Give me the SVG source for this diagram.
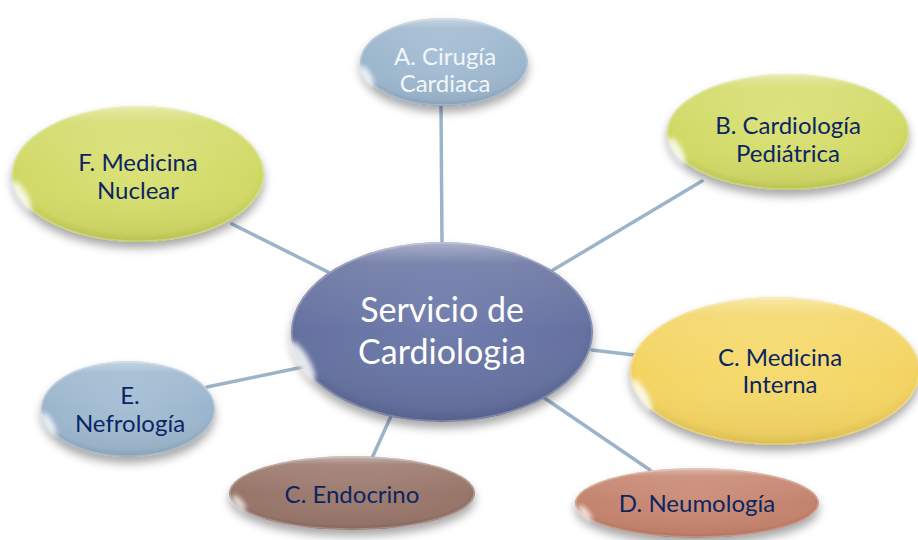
<svg xmlns="http://www.w3.org/2000/svg" width="918" height="540" viewBox="0 0 918 540">
<defs>
<filter id="sh" x="-20%" y="-20%" width="140%" height="150%">
<feDropShadow dx="0" dy="6" stdDeviation="5" flood-color="#000" flood-opacity="0.35"/>
</filter>
<filter id="blur" x="-50%" y="-50%" width="200%" height="200%">
<feGaussianBlur stdDeviation="2.5"/>
</filter>
<radialGradient id="gCenter" cx="50%" cy="45%" r="60%">
<stop offset="0" stop-color="#717dad"/><stop offset="0.8" stop-color="#65719f"/><stop offset="1" stop-color="#505b87"/>
</radialGradient>
<radialGradient id="gBlue" cx="50%" cy="45%" r="60%">
<stop offset="0" stop-color="#a7c0d6"/><stop offset="0.8" stop-color="#9bb5cc"/><stop offset="1" stop-color="#7d98b2"/>
</radialGradient>
<radialGradient id="gGreen" cx="50%" cy="45%" r="60%">
<stop offset="0" stop-color="#dbe27a"/><stop offset="0.8" stop-color="#d1d965"/><stop offset="1" stop-color="#b5bd48"/>
</radialGradient>
<radialGradient id="gYellow" cx="50%" cy="45%" r="60%">
<stop offset="0" stop-color="#f7dc72"/><stop offset="0.8" stop-color="#f3d463"/><stop offset="1" stop-color="#dcb948"/>
</radialGradient>
<radialGradient id="gSalmon" cx="50%" cy="45%" r="60%">
<stop offset="0" stop-color="#cc8f79"/><stop offset="0.8" stop-color="#c3826c"/><stop offset="1" stop-color="#a56a56"/>
</radialGradient>
<radialGradient id="gBrown" cx="50%" cy="45%" r="60%">
<stop offset="0" stop-color="#a07e72"/><stop offset="0.8" stop-color="#97756a"/><stop offset="1" stop-color="#7a5c52"/>
</radialGradient>
<linearGradient id="gloss" x1="0" y1="0" x2="0" y2="1">
<stop offset="0" stop-color="#fff" stop-opacity="0.45"/><stop offset="0.12" stop-color="#fff" stop-opacity="0.12"/><stop offset="0.5" stop-color="#fff" stop-opacity="0"/><stop offset="1" stop-color="#000" stop-opacity="0.05"/>
</linearGradient>
</defs>
<style>
.conn line{stroke:#9bb4c9;stroke-width:3.5;stroke-linecap:round}
.node .hl{fill:#fff;opacity:0.85;filter:url(#blur)}
.node .gl{fill:url(#gloss)}
.node .rim{fill:none;stroke:#fff;stroke-opacity:0.25;stroke-width:1.5}
text{font-family:Lato,"Open Sans","Liberation Sans",sans-serif;text-anchor:middle}
.dark{fill:#0b2562;font-size:24px}
.light{fill:#f2f6fa;font-size:24px}
.big{fill:#fff;font-size:34px}
</style>
<g id="connectors" class="conn">
<line x1="441" y1="106" x2="442" y2="244"/>
<line x1="702" y1="181" x2="553" y2="270"/>
<line x1="232" y1="224" x2="328" y2="272"/>
<line x1="592" y1="350" x2="634" y2="355"/>
<line x1="540" y1="395" x2="650" y2="470"/>
<line x1="392" y1="414" x2="372" y2="458"/>
<line x1="207" y1="387" x2="303" y2="367"/>
</g>
<g id="nodeA" class="node">
<ellipse cx="444" cy="62" rx="84" ry="44" fill="url(#gBlue)" filter="url(#sh)"/>
<ellipse cx="444" cy="62" rx="84" ry="44" class="gl"/>
<ellipse cx="444" cy="62" rx="83" ry="43" class="rim"/>
<ellipse cx="367" cy="76" rx="4" ry="12" class="hl" transform="rotate(-30 367 76)"/>
<text class="light" x="445" y="65">A. Cirugía</text>
<text class="light" x="445" y="92">Cardiaca</text>
</g>
<g id="nodeB" class="node">
<ellipse cx="788" cy="132" rx="121" ry="58" fill="url(#gGreen)" filter="url(#sh)"/>
<ellipse cx="788" cy="132" rx="121" ry="58" class="gl"/>
<ellipse cx="788" cy="132" rx="120" ry="57" class="rim"/>
<ellipse cx="677" cy="151" rx="5" ry="15" class="hl" transform="rotate(-30 677 151)"/>
<text class="dark" x="788" y="134">B. Cardiología</text>
<text class="dark" x="788" y="162">Pediátrica</text>
</g>
<g id="nodeF" class="node">
<ellipse cx="138" cy="174" rx="126" ry="68" fill="url(#gGreen)" filter="url(#sh)"/>
<ellipse cx="138" cy="174" rx="126" ry="68" class="gl"/>
<ellipse cx="138" cy="174" rx="125" ry="67" class="rim"/>
<ellipse cx="22" cy="196" rx="5" ry="17" class="hl" transform="rotate(-30 22 196)"/>
<text class="dark" x="138" y="171">F. Medicina</text>
<text class="dark" x="138" y="199">Nuclear</text>
</g>
<g id="nodeCenter" class="node">
<ellipse cx="442" cy="332" rx="151" ry="90" fill="url(#gCenter)" filter="url(#sh)"/>
<ellipse cx="442" cy="332" rx="151" ry="90" class="gl"/>
<ellipse cx="442" cy="332" rx="150" ry="89" class="rim"/>
<ellipse cx="303" cy="361" rx="6" ry="22" class="hl" transform="rotate(-30 303 361)"/>
<text class="big" x="442" y="322">Servicio de</text>
<text class="big" x="442" y="364">Cardiologia</text>
</g>
<g id="nodeC" class="node">
<ellipse cx="775" cy="371" rx="145" ry="74" fill="url(#gYellow)" filter="url(#sh)"/>
<ellipse cx="775" cy="371" rx="145" ry="74" class="gl"/>
<ellipse cx="775" cy="371" rx="144" ry="73" class="rim"/>
<ellipse cx="642" cy="395" rx="5" ry="18" class="hl" transform="rotate(-30 642 395)"/>
<text class="dark" x="780" y="366">C. Medicina</text>
<text class="dark" x="780" y="393">Interna</text>
</g>
<g id="nodeD" class="node">
<ellipse cx="697" cy="503" rx="122" ry="35" fill="url(#gSalmon)" filter="url(#sh)"/>
<ellipse cx="697" cy="503" rx="122" ry="35" class="gl"/>
<ellipse cx="697" cy="503" rx="121" ry="34" class="rim"/>
<ellipse cx="585" cy="513" rx="3.5" ry="10" class="hl" transform="rotate(-40 585 513)"/>
<text class="dark" x="697" y="512">D. Neumología</text>
</g>
<g id="nodeEndo" class="node">
<ellipse cx="352" cy="493" rx="123" ry="37" fill="url(#gBrown)" filter="url(#sh)"/>
<ellipse cx="352" cy="493" rx="123" ry="37" class="gl"/>
<ellipse cx="352" cy="493" rx="122" ry="36" class="rim"/>
<ellipse cx="239" cy="503" rx="3.5" ry="10" class="hl" transform="rotate(-40 239 503)"/>
<text class="dark" x="352" y="503">C. Endocrino</text>
</g>
<g id="nodeE" class="node">
<ellipse cx="128" cy="409" rx="87" ry="48" fill="url(#gBlue)" filter="url(#sh)"/>
<ellipse cx="128" cy="409" rx="87" ry="48" class="gl"/>
<ellipse cx="128" cy="409" rx="86" ry="47" class="rim"/>
<ellipse cx="49" cy="424" rx="4" ry="13" class="hl" transform="rotate(-30 49 424)"/>
<text class="dark" x="130" y="404">E.</text>
<text class="dark" x="130" y="432">Nefrología</text>
</g>
</svg>
